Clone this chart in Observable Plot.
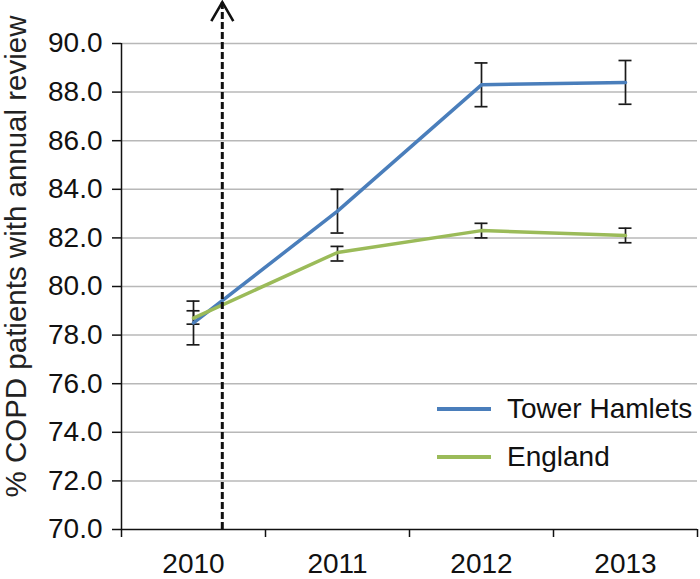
<!DOCTYPE html>
<html><head><meta charset="utf-8">
<script src="https://cdn.jsdelivr.net/npm/d3@7"></script>
<script src="https://cdn.jsdelivr.net/npm/@observablehq/plot@0.6"></script>
<style>
body{margin:0;background:#fff;}
#wrap{position:relative;width:700px;height:579px;font-family:"Liberation Sans",Arial,sans-serif;}
#legend{position:absolute;left:437px;top:385px;font-size:28px;color:#111;line-height:1;}
.item{display:flex;align-items:center;height:48px;}
.swatch{width:54px;height:3.5px;margin-right:16px;}
</style></head><body><div id="wrap"></div>
<script>
const years = ["2010", "2011", "2012", "2013"];
const seriesNames = ["Tower Hamlets", "England"];
const seriesColors = ["#4a7ebb", "#9bbb59"];
const towerHamlets = [78.5, 83.1, 88.3, 88.4];
const towerLow = [77.6, 82.2, 87.4, 87.5];
const towerHigh = [79.4, 84.0, 89.2, 89.3];
const england = [78.7, 81.4, 82.3, 82.1];
const englandLow = [78.45, 81.05, 82.0, 81.8];
const englandHigh = [79.0, 81.65, 82.6, 82.4];
const yTicks = [70, 72, 74, 76, 78, 80, 82, 84, 86, 88, 90];
const yLabel = "% COPD patients with annual review";
// intervention marker: position in year-index units (between 2010 and 2011)
const intervention = 0.2;
const arrowTop = 91.7;

const rows = [];
years.forEach((yr, i) => {
  rows.push({i, year: yr, series: seriesNames[0], value: towerHamlets[i], low: towerLow[i], high: towerHigh[i]});
});
years.forEach((yr, i) => {
  rows.push({i, year: yr, series: seriesNames[1], value: england[i], low: englandLow[i], high: englandHigh[i]});
});
const boundaries = years.map((_, i) => i - 0.5).concat([years.length - 0.5]);
const centers = years.map((_, i) => i);

const chevron = {
  draw(ctx) { ctx.moveTo(-11, 19); ctx.lineTo(0, 0); ctx.lineTo(11, 19); }
};

const ink = "#111";
const plot = Plot.plot({
  width: 700,
  height: 579,
  marginLeft: 121,
  marginRight: 3,
  marginTop: 43,
  marginBottom: 50,
  style: {fontFamily: "'Liberation Sans', Arial, sans-serif", fontSize: "28px", color: ink, background: "#fff"},
  x: {domain: [-0.5, years.length - 0.5]},
  y: {domain: [70, 90]},
  color: {domain: seriesNames, range: seriesColors},
  marks: [
    Plot.ruleY(yTicks.slice(1), {stroke: "#b8b8b8", strokeWidth: 1.5}),
    Plot.ruleX(rows, {x: "i", y1: "low", y2: "high", stroke: "#1a1a1a", strokeWidth: 1.7}),
    Plot.ruleY(rows, {y: "low", x1: "i", x2: "i", insetLeft: -6.5, insetRight: -6.5, stroke: "#1a1a1a", strokeWidth: 1.7}),
    Plot.ruleY(rows, {y: "high", x1: "i", x2: "i", insetLeft: -6.5, insetRight: -6.5, stroke: "#1a1a1a", strokeWidth: 1.7}),
    Plot.line(rows, {x: "i", y: "value", z: "series", stroke: "series", strokeWidth: 3.5}),
    Plot.ruleX([intervention], {x: d => d, y1: 70, y2: arrowTop, stroke: ink, strokeWidth: 3, strokeDasharray: "7,3"}),
    Plot.dot([intervention], {x: d => d, y: arrowTop, symbol: chevron, fill: "none", stroke: ink, strokeWidth: 2.6}),
    Plot.ruleX([-0.5], {stroke: ink, strokeWidth: 1.5}),
    Plot.ruleY([70], {stroke: ink, strokeWidth: 1.5}),
    Plot.axisY({ticks: yTicks, tickFormat: d => d.toFixed(1), tickSize: 9, tickPadding: 10, label: null, stroke: ink, strokeWidth: 1.5}),
    Plot.axisX({ticks: boundaries, tickFormat: () => "", tickSize: 8, label: null, strokeWidth: 1.5}),
    Plot.axisX({ticks: centers, tickFormat: i => years[i], tickSize: 0, tickPadding: 24, label: null}),
    Plot.text([yLabel], {frameAnchor: "left", textAnchor: "middle", rotate: -90, dx: -105, dy: -30, fontSize: 29.5, fill: "#222"})
  ]
});
const wrap = document.getElementById("wrap");
wrap.appendChild(plot);
const legend = document.createElement("div");
legend.id = "legend";
seriesNames.forEach((name, k) => {
  const item = document.createElement("div");
  item.className = "item";
  const sw = document.createElement("span");
  sw.className = "swatch";
  sw.style.background = seriesColors[k];
  const t = document.createElement("span");
  t.textContent = name;
  item.appendChild(sw);
  item.appendChild(t);
  legend.appendChild(item);
});
wrap.appendChild(legend);
</script></body></html>
